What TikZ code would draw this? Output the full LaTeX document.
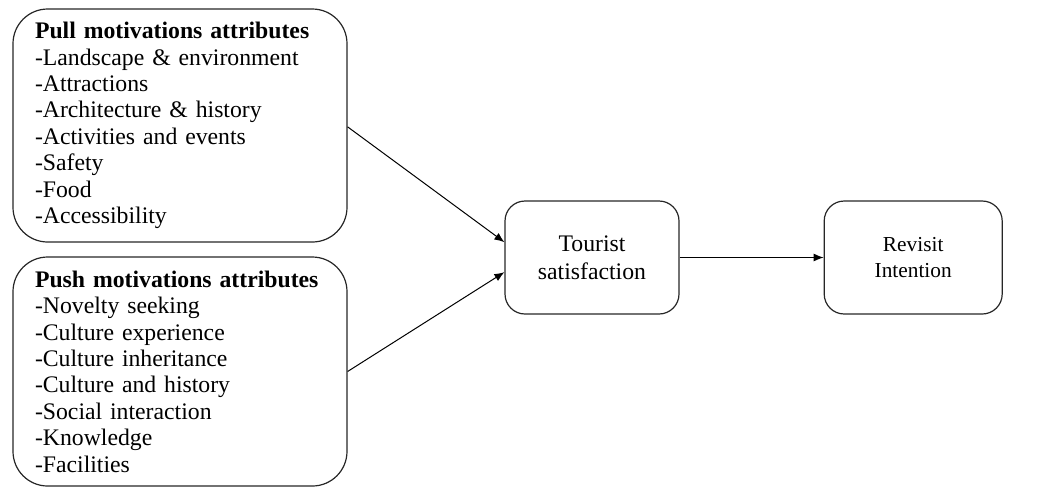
\documentclass[tikz,border=0pt]{standalone}
\usepackage{fontspec}
\setmainfont{Liberation Serif}
\usetikzlibrary{arrows.meta,positioning}

\tikzstyle{attrbox}=[rectangle,
    rounded corners=26pt,
    line width=0.9pt,
    draw=black!85,
    minimum width=250.5pt,
    inner xsep=16.5pt,
    text width=217.5pt,
    align=left,
    font=\fontsize{17.8}{19.8}\selectfont]
\tikzstyle{block}=[rectangle,
    rounded corners=15pt,
    line width=0.9pt,
    draw=black!85,
    minimum height=84.75pt,
    align=center]
\tikzstyle{link}=[draw,->,line width=0.75pt]

\begin{document}
\begin{tikzpicture}[x=0.75pt,y=-0.75pt,>={Latex[length=7.5pt,width=6pt]}]
    \useasboundingbox (0,0) rectangle (1057,487);
    \node (pull) [attrbox,minimum height=174.75pt] at (180,125.5)
        {\textbf{Pull motivations attributes}\\
         -Landscape \& environment\\
         -Attractions\\
         -Architecture \& history\\
         -Activities and events\\
         -Safety\\
         -Food\\
         -Accessibility};
    \node (push) [attrbox,minimum height=171.75pt] at (180,371.5)
        {\textbf{Push motivations attributes}\\
         -Novelty seeking\\
         -Culture experience\\
         -Culture inheritance\\
         -Culture and history\\
         -Social interaction\\
         -Knowledge\\
         -Facilities};
    \node (satisfaction) [block,minimum width=130.5pt,
        font=\fontsize{17.8}{21}\selectfont] at (592,257.5)
        {Tourist\\satisfaction};
    \node (revisit) [block,minimum width=133.5pt,right=108pt of satisfaction,
        font=\fontsize{16}{19.5}\selectfont]
        {Revisit\\Intention};
    \draw [link] ([yshift=-1pt]pull.east) -- ([yshift=11.5pt]satisfaction.west);
    \draw [link] (push.east) -- ([yshift=-11pt]satisfaction.west);
    \draw [link] (satisfaction) -- (revisit);
\end{tikzpicture}
\end{document}
